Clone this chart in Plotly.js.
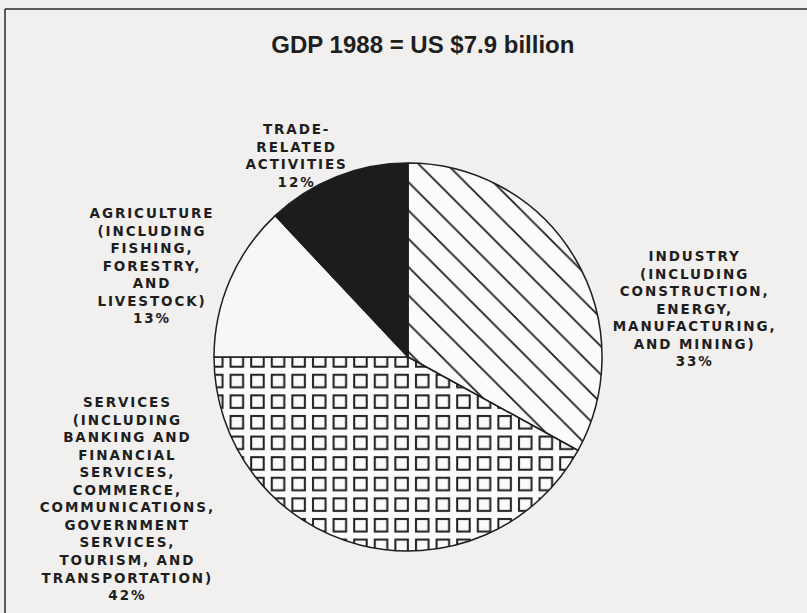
<!DOCTYPE html>
<html><head><meta charset="utf-8">
<script src="https://cdn.plot.ly/plotly-3.0.1.min.js"></script>
<style>
html,body{margin:0;padding:0;background:#f2f0ee;}
#chart .annotation-text{letter-spacing:1.9px;}
</style></head><body>
<div id="chart" style="width:807px;height:613px;"></div>
<script>
// ---- data ----
const sectors = ['Industry', 'Services', 'Agriculture', 'Trade-related activities'];
const shares = [33, 42, 13, 12];
const sectorLabelLines = [
  ['INDUSTRY', '(INCLUDING', 'CONSTRUCTION,', 'ENERGY,', 'MANUFACTURING,', 'AND MINING)'],
  ['SERVICES', '(INCLUDING', 'BANKING AND', 'FINANCIAL', 'SERVICES,', 'COMMERCE,', 'COMMUNICATIONS,', 'GOVERNMENT', 'SERVICES,', 'TOURISM, AND', 'TRANSPORTATION)'],
  ['AGRICULTURE', '(INCLUDING', 'FISHING,', 'FORESTRY,', 'AND', 'LIVESTOCK)'],
  ['TRADE-', 'RELATED', 'ACTIVITIES']
];
const chartTitle = 'GDP 1988 = US $7.9 billion';

// ---- layout config ----
const labelAnchors = [[0.8612, 0.4967], [0.1586, 0.1868], [0.1884, 0.5661], [0.3668, 0.7471]];
const ink = '#1e1e1e';

const trace = {
  type: 'pie',
  labels: sectors,
  values: shares,
  sort: false,
  direction: 'clockwise',
  rotation: 0,
  textinfo: 'none',
  hoverinfo: 'label+percent',
  showlegend: false,
  domain: {x: [0.2652, 0.7460], y: [0.1011, 0.7341]},
  marker: {
    colors: ['#ffffff', '#ffffff', '#f8f7f5', '#1c1c1c'],
    line: {color: ink, width: 1.5},
    pattern: {
      shape: ['\\', '+', '', ''],
      size: [20, 20.6, 8, 8],
      solidity: [0.09, 0.1, 0.1, 0.1],
      fgcolor: ink,
      bgcolor: ['#fbfbfa', '#fbfbfa', '#f8f7f5', '#1c1c1c'],
      fillmode: 'replace'
    }
  }
};

const annotations = sectors.map((s, i) => ({
  xref: 'paper', yref: 'paper',
  x: labelAnchors[i][0], y: labelAnchors[i][1],
  xanchor: 'center', yanchor: 'middle', align: 'center',
  showarrow: false,
  text: sectorLabelLines[i].concat([shares[i] + '%']).join('<br>'),
  font: {family: 'DejaVu Sans, Liberation Sans, sans-serif', size: 13.5, color: ink, weight: 'bold'}
}));

const layout = {
  width: 807, height: 613,
  margin: {l: 0, r: 0, t: 0, b: 0},
  paper_bgcolor: '#f2f0ee',
  plot_bgcolor: '#f2f0ee',
  title: {
    text: chartTitle,
    x: 0.524, xanchor: 'center',
    y: 0.9266, yanchor: 'middle',
    font: {family: 'Liberation Sans, Arial, sans-serif', size: 24, color: ink, weight: 'bold'}
  },
  annotations: annotations,
  shapes: [
    {type: 'line', xref: 'paper', yref: 'paper', x0: 0.0062, x1: 1, y0: 0.9853, y1: 0.9853, line: {color: '#2a2a2a', width: 1.5}},
    {type: 'line', xref: 'paper', yref: 'paper', x0: 0.0062, x1: 0.0062, y0: 0, y1: 0.9853, line: {color: '#2a2a2a', width: 1.5}}
  ]
};

Plotly.newPlot('chart', [trace], layout, {displayModeBar: false, staticPlot: true}).then(gd => {
  // turn the Services grid pattern into open squares like the original print
  const paths = gd.querySelectorAll('g.slice path.surface');
  const p = paths[1];
  if (!p) return;
  const st = p.getAttribute('style') || '';
  const m = st.match(/url\(["']?#([^"')]+)["']?\)/);
  if (!m) return;
  const pat = document.getElementById(m[1]);
  if (!pat) return;
  const ns = 'http://www.w3.org/2000/svg';
  const s = 20.6;
  pat.setAttribute('width', s);
  pat.setAttribute('height', s);
  while (pat.firstChild) pat.removeChild(pat.firstChild);
  const bg = document.createElementNS(ns, 'rect');
  bg.setAttribute('width', s); bg.setAttribute('height', s);
  bg.setAttribute('fill', '#fbfbfa');
  pat.appendChild(bg);
  const sq = document.createElementNS(ns, 'rect');
  sq.setAttribute('x', 4); sq.setAttribute('y', 4);
  sq.setAttribute('width', 12.5); sq.setAttribute('height', 12.5);
  sq.setAttribute('fill', 'none');
  sq.setAttribute('stroke', ink);
  sq.setAttribute('stroke-width', 2);
  pat.appendChild(sq);
});
</script>
</body></html>
